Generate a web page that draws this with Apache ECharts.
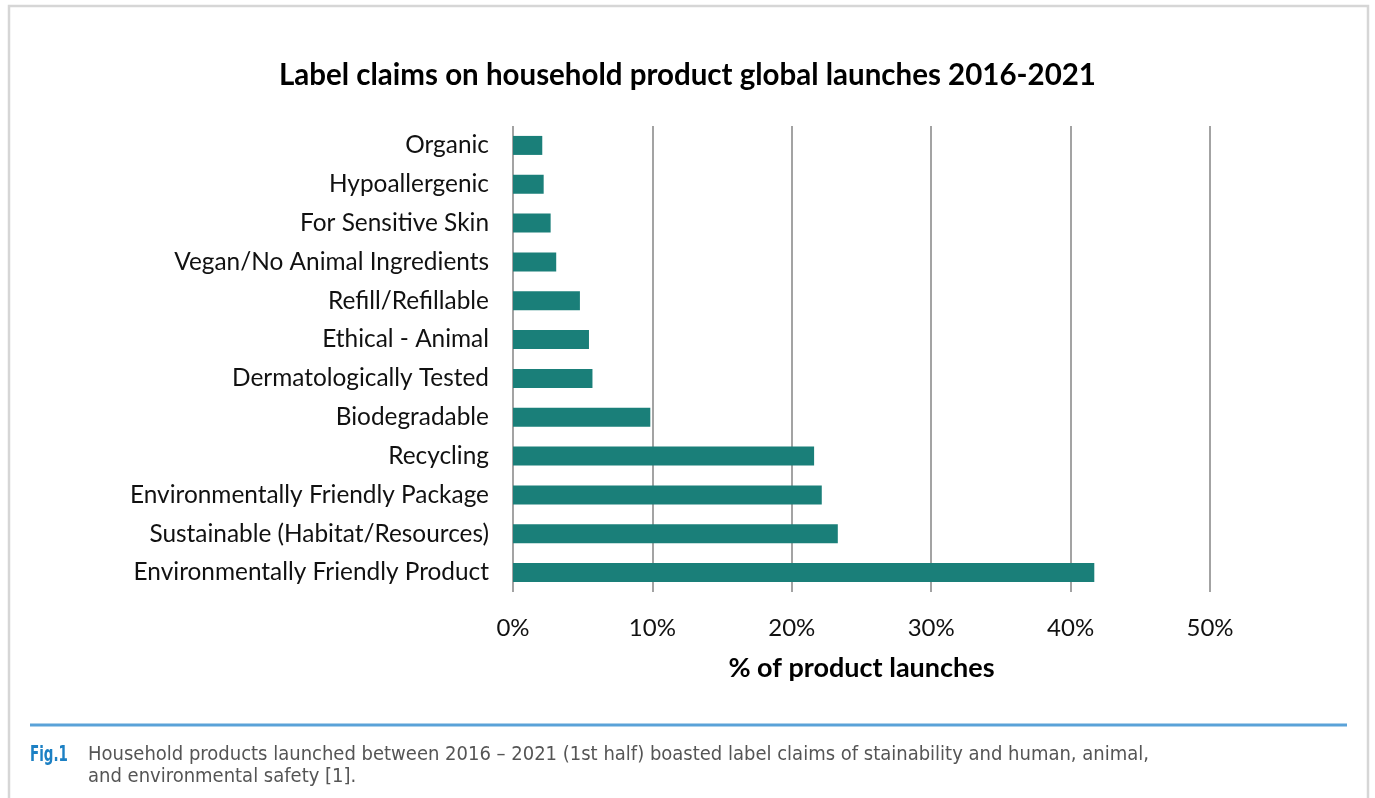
<!DOCTYPE html>
<html>
<head>
<meta charset="utf-8">
<script src="https://cdn.jsdelivr.net/npm/echarts@6/dist/echarts.min.js"></script>
<style>
  html, body { margin: 0; padding: 0; background: #ffffff; }
  #chart { width: 1375px; height: 798px; }
</style>
</head>
<body>
<div id="chart"></div>
<script>
// Label claims, listed top to bottom
const categories = [
  'Organic',
  'Hypoallergenic',
  'For Sensitive Skin',
  'Vegan/No Animal Ingredients',
  'Refill/Refillable',
  'Ethical - Animal',
  'Dermatologically Tested',
  'Biodegradable',
  'Recycling',
  'Environmentally Friendly Package',
  'Sustainable (Habitat/Resources)',
  'Environmentally Friendly Product'
];

// Share of product launches carrying each claim (%)
const shareValues = [2.1, 2.2, 2.7, 3.1, 4.8, 5.45, 5.7, 9.85, 21.6, 22.15, 23.3, 41.7];

// Axis ticks (%)
const tickValues = [0, 10, 20, 30, 40, 50];

const titleText = 'Label claims on household product global launches 2016-2021';
const axisTitle = '% of product launches';
const figLabel = 'Fig.1';
const captionLines = [
  'Household products launched between 2016 \u2013 2021 (1st half) boasted label claims of stainability and human, animal,',
  'and environmental safety [1].'
];

const FONT = 'Lato, "Noto Sans", sans-serif';
const CAPTION_FONT = '"Liberation Sans Narrow", "DejaVu Sans Condensed", "Noto Sans", sans-serif';

const chart = echarts.init(document.getElementById('chart'), null, { renderer: 'canvas' });

chart.setOption({
  backgroundColor: '#ffffff',
  animation: false,
  title: {
    text: titleText,
    left: 'center',
    top: 55,
    textStyle: { fontFamily: FONT, fontWeight: 'bold', fontSize: 29.5, color: '#000000' }
  },
  grid: { left: 513, right: 165, top: 126, bottom: 206, containLabel: false },
  xAxis: {
    type: 'value',
    min: tickValues[0],
    max: tickValues[tickValues.length - 1],
    interval: tickValues[1] - tickValues[0],
    name: axisTitle,
    nameLocation: 'middle',
    nameGap: 63,
    nameTextStyle: { fontFamily: FONT, fontWeight: 'bold', fontSize: 27, color: '#000000' },
    axisLine: { show: false },
    axisTick: { show: false },
    axisLabel: {
      margin: 24,
      formatter: '{value}%',
      fontFamily: FONT, fontSize: 24, color: '#111111'
    },
    splitLine: { show: true, lineStyle: { color: '#8c8c8c', width: 1.6 } }
  },
  yAxis: {
    type: 'category',
    data: categories,
    inverse: true,
    axisLine: { show: false },
    axisTick: { show: false },
    axisLabel: { margin: 24, fontFamily: FONT, fontSize: 24.4, color: '#111111' },
    splitLine: { show: false }
  },
  series: [{
    type: 'bar',
    data: shareValues,
    barWidth: 19,
    itemStyle: { color: '#1a7f79' },
    silent: true
  }],
  graphic: [
    // outer frame
    {
      type: 'rect',
      shape: { x: 9, y: 6, width: 1359, height: 820 },
      style: { fill: 'none', stroke: '#d6d6d6', lineWidth: 2.5 },
      silent: true
    },
    // caption rule
    {
      type: 'line',
      shape: { x1: 30, y1: 725, x2: 1347, y2: 725 },
      style: { stroke: '#5aa2d8', lineWidth: 3 },
      silent: true
    },
    {
      type: 'text',
      x: 30, y: 744,
      scaleX: 0.68,
      style: { text: figLabel, fontFamily: CAPTION_FONT, fontWeight: 'bold', fontSize: 22, fill: '#1c80c4' },
      silent: true
    },
    {
      type: 'text',
      x: 88, y: 745,
      style: { text: captionLines[0], fontFamily: CAPTION_FONT, fontSize: 20, fill: '#555555' },
      silent: true
    },
    {
      type: 'text',
      x: 88, y: 767,
      style: { text: captionLines[1], fontFamily: CAPTION_FONT, fontSize: 20, fill: '#555555' },
      silent: true
    }
  ]
});
</script>
</body>
</html>
